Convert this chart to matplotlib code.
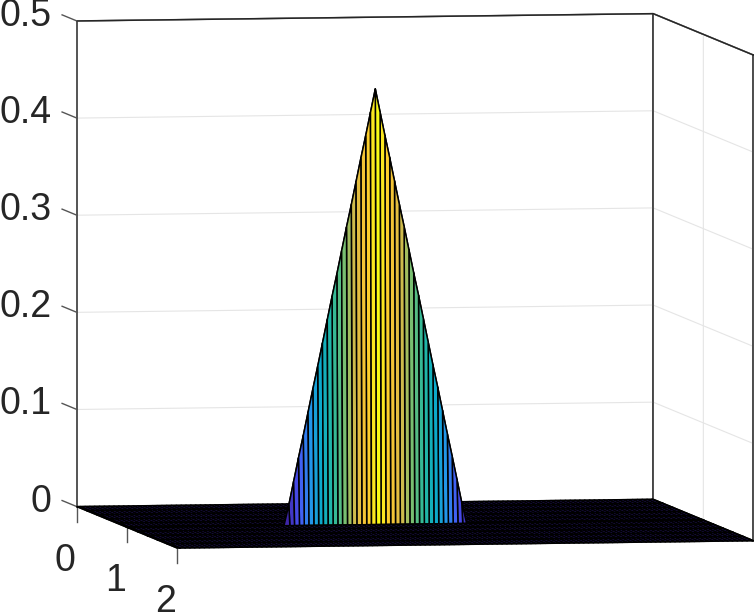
from matplotlib import pyplot as plt
from matplotlib.colors import LinearSegmentedColormap
import numpy as np

# surface grid, the tent stands on one row of the x grid
y_min, y_max = -0.7, 119.3
x_grid = [0, 0.2, 0.4, 0.6, 0.8, 0.98, 1.0, 1.02, 1.2, 1.4, 1.6, 1.8, 2.0]
y_grid = np.r_[y_min, np.arange(120), y_max]
ridge_x = 1.0
ridge_y = list(range(32, 71))
ridge_z = [0.000, 0.021, 0.045, 0.069, 0.092, 0.116, 0.140, 0.163, 0.187, 0.211,
           0.235, 0.258, 0.282, 0.306, 0.329, 0.353, 0.377, 0.400, 0.424, 0.448,
           0.424, 0.400, 0.377, 0.353, 0.329, 0.306, 0.282, 0.258, 0.235, 0.211,
           0.187, 0.163, 0.140, 0.116, 0.092, 0.069, 0.045, 0.021, 0.000]

x_ticks = [0, 1, 2]
z_ticks = [0, 0.1, 0.2, 0.3, 0.4, 0.5]
z_labels = ['0', '0.1', '0.2', '0.3', '0.4', '0.5']

parula = LinearSegmentedColormap.from_list('parula', [
    (0.2422, 0.1504, 0.6603), (0.2810, 0.3228, 0.9579), (0.1400, 0.5800, 0.9200),
    (0.0400, 0.6700, 0.7800), (0.1500, 0.7200, 0.6200), (0.4500, 0.7500, 0.4500),
    (0.8500, 0.7300, 0.2800), (0.9900, 0.7800, 0.1900), (0.9769, 0.9839, 0.0805)])

plt.rcParams['font.family'] = ['Liberation Sans', 'DejaVu Sans']
plt.rcParams['grid.color'] = '#e5e5e5'
plt.rcParams['grid.linewidth'] = 0.8

# the 3d axes clip to a square, so it has to be bigger than the figure
side = 900
fig = plt.figure(figsize=(7.54, 6.13), dpi=100)
ax = fig.add_axes([(403 - side / 2) / 754, (320 - side / 2) / 613, side / 754, side / 613],
                  projection='3d', proj_type='ortho')
ax.view_init(elev=4.15, azim=-9.94)
ax.set_box_aspect((580, 584, 486), zoom=1.033)

Z = np.zeros((len(x_grid), len(y_grid)))
Z[x_grid.index(ridge_x), np.searchsorted(y_grid, ridge_y)] = ridge_z
Y, X = np.meshgrid(y_grid, x_grid)
ax.plot_surface(X, Y, Z, rstride=1, cstride=1, facecolors=parula(Z / max(ridge_z)),
                edgecolor='black', linewidth=1.1, shade=False)

ax.set_xlim(0, 2)
ax.set_ylim(y_min, y_max)
ax.set_zlim(0, 0.5)
ax.set_xticks(x_ticks)
ax.set_yticks([])
ax.set_zticks(z_ticks)
ax.set_xticklabels([])
ax.set_zticklabels([])
for axis in (ax.xaxis, ax.yaxis, ax.zaxis):
    axis.set_pane_color('white')
    axis.pane.set_edgecolor('#262626')
    axis.pane.set_linewidth(1.0)
    axis.line.set_visible(False)
ax.tick_params(color=(0, 0, 0, 0))

# pane outlines are open polygons, so the walls get their edges drawn here
for x, y in [(0, y_min), (0, y_max), (2, y_max)]:
    ax.plot([x, x], [y, y], [0, 0.5], color='#262626', lw=1.1)
ax.plot([0, 0, 2], [y_min, y_max, y_max], [0.5, 0.5, 0.5], color='#262626', lw=1.1)

for x in x_ticks:
    ax.plot([x, x], [y_min, y_min], [0, -0.0155], color='#555555', lw=1)
    ax.text(x, y_min - 2.4, -0.0556, str(x), ha='center', va='center', fontsize=27, color='#262626')
for z, lab in zip(z_ticks, z_labels):
    ax.plot([0, -0.294], [y_min, y_min], [z, z], color='#555555', lw=1)
    ax.text(-0.504, y_min, z - 0.0055, lab, ha='right', va='center', fontsize=27, color='#262626')

fig.savefig('out.png', dpi=100)
